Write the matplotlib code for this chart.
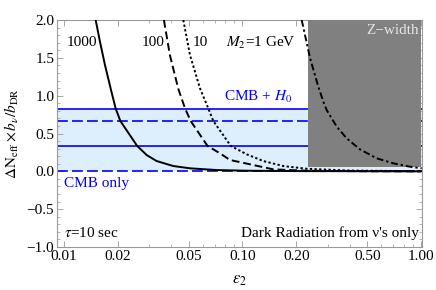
import matplotlib
matplotlib.use("Agg")
import matplotlib.pyplot as plt
from matplotlib.ticker import FixedLocator, NullFormatter

plt.rcParams['font.family'] = ['Liberation Serif', 'DejaVu Serif']
plt.rcParams['mathtext.fontset'] = 'stix'
plt.rcParams['font.size'] = 11

# ---- data ----
eps_1000 = [0.01505, 0.01591, 0.01697, 0.01850, 0.01948, 0.02070, 0.02570, 0.02906, 0.03305,
            0.04096, 0.05081, 0.0717, 0.1056, 0.2, 1.0]
dn_1000 = [2.0, 1.713, 1.405, 1.04, 0.83, 0.665, 0.336, 0.215, 0.136,
           0.07, 0.04, 0.017, 0.008, 0.003, 0.0]

eps_100 = [0.0363, 0.0392, 0.04369, 0.04764, 0.05127, 0.06368, 0.07482, 0.08511, 0.1067,
           0.1488, 0.2289, 0.5, 1.0]
dn_100 = [2.0, 1.537, 1.09, 0.833, 0.665, 0.336, 0.238, 0.15, 0.10,
          0.026, 0.008, 0.001, 0.0]

eps_10 = [0.0466, 0.0508, 0.0578, 0.0643, 0.06862, 0.0860, 0.1056, 0.1308, 0.1693,
          0.2289, 0.4, 1.0]
dn_10 = [2.0, 1.537, 1.097, 0.833, 0.665, 0.336, 0.225, 0.136, 0.07,
         0.034, 0.01, 0.002]

eps_1 = [0.2146, 0.2389, 0.2659, 0.284, 0.2963, 0.3372, 0.3835, 0.4552, 0.5647,
         0.6996, 0.8679, 1.009]
dn_1 = [2.0, 1.50, 1.118, 0.92, 0.81, 0.59, 0.436, 0.29, 0.172,
        0.106, 0.061, 0.04]

band_solid = [0.83, 0.335]
band_dashed = [0.665, 0.0]
band_fill = [0.0, 0.83]

zwidth_eps = [0.2337, 1.0]
zwidth_dn = [0.06, 2.0]

curve_labels = ['1000', '100', '10']
curve_label_eps = [0.0126, 0.0315, 0.0578]

xticks = [0.01, 0.02, 0.05, 0.10, 0.20, 0.50, 1.00]
xtick_labels = ['0.01', '0.02', '0.05', '0.10', '0.20', '0.50', '1.00']
yticks = [-1.0, -0.5, 0.0, 0.5, 1.0, 1.5, 2.0]
ytick_labels = ['\u22121.0', '\u22120.5', '0.0', '0.5', '1.0', '1.5', '2.0']

# ---- figure ----
fig = plt.figure(figsize=(4.36, 2.90), dpi=100)
ax = fig.add_axes([57/436, 1-247/290, (422-57)/436, (247-20)/290])
ax.set_xscale('log')
ax.set_xlim(0.00914, 1.013)
ax.set_ylim(-1.0, 2.0)

xlim = ax.get_xlim()
ax.fill_between(list(xlim), band_fill[0], band_fill[1], color='#ddeefd', zorder=1, lw=0)
for v in band_solid:
    ax.axhline(v, color='#0000ff', lw=1.2, zorder=2)
for v in band_dashed:
    ax.axhline(v, color='#0000ff', lw=1.2, ls=(0, (6.5, 2.5)), zorder=2)

ax.fill_between(zwidth_eps, zwidth_dn[0], zwidth_dn[1], color='#808080', lw=0, zorder=3)

ax.plot(eps_1000, dn_1000, color='black', lw=1.4, zorder=4)
ax.plot(eps_100, dn_100, color='black', lw=1.4, ls=(0, (4, 2)), zorder=4)
ax.plot(eps_10, dn_10, color='black', lw=1.4, ls=(0, (1.2, 1.2)), zorder=4)
ax.plot(eps_1, dn_1, color='black', lw=1.4, ls=(0, (3.5, 1.5, 1.2, 1.5)), zorder=4)

for lab, e in zip(curve_labels, curve_label_eps):
    ax.text(e, 1.70, lab, ha='center', va='center', zorder=5)
ax.text(0.199, 1.70, r'$M_2$=1 GeV', ha='right', va='center', zorder=5)
ax.text(0.975, 1.86, 'Z\u2212width', ha='right', va='center', color='#e6e6e6', zorder=5)
ax.text(0.19, 0.985, r'CMB + $H_0$', ha='right', va='center', color='#0000ff', zorder=5)
ax.text(0.0100, -0.16, 'CMB only', ha='left', va='center', color='#0000ff', zorder=5)
ax.text(0.0100, -0.82, r'$\tau$=10 sec', ha='left', va='center', zorder=5)
ax.text(0.975, -0.82, "Dark Radiation from \u03bd's only", ha='right', va='center', zorder=5)

ax.xaxis.set_major_locator(FixedLocator(xticks))
ax.set_xticklabels(xtick_labels)
minor_x = [k * 0.01 for k in (3, 4, 6, 7, 8, 9)] + [k * 0.1 for k in (3, 4, 6, 7, 8, 9)]
ax.xaxis.set_minor_locator(FixedLocator(minor_x))
ax.xaxis.set_minor_formatter(NullFormatter())
ax.yaxis.set_major_locator(FixedLocator(yticks))
ax.set_yticklabels(ytick_labels)
ax.yaxis.set_minor_locator(FixedLocator([-1 + 0.1 * i for i in range(31)]))

ax.tick_params(which='both', direction='in', top=True, right=True, color='#999999', labelsize=11, pad=2)
ax.tick_params(which='major', length=4, width=0.6)
ax.tick_params(which='minor', length=2, width=0.5)
for s in ax.spines.values():
    s.set_color('#999999')
    s.set_linewidth(0.8)

ax.set_xlabel(r'$\epsilon_2$', fontsize=12, labelpad=7)
ax.set_ylabel(r'$\Delta\mathrm{N}_{\mathrm{eff}}\times b_{\nu}/b_{\mathrm{DR}}$', fontsize=11, labelpad=4)

fig.savefig('out.png', dpi=100)
